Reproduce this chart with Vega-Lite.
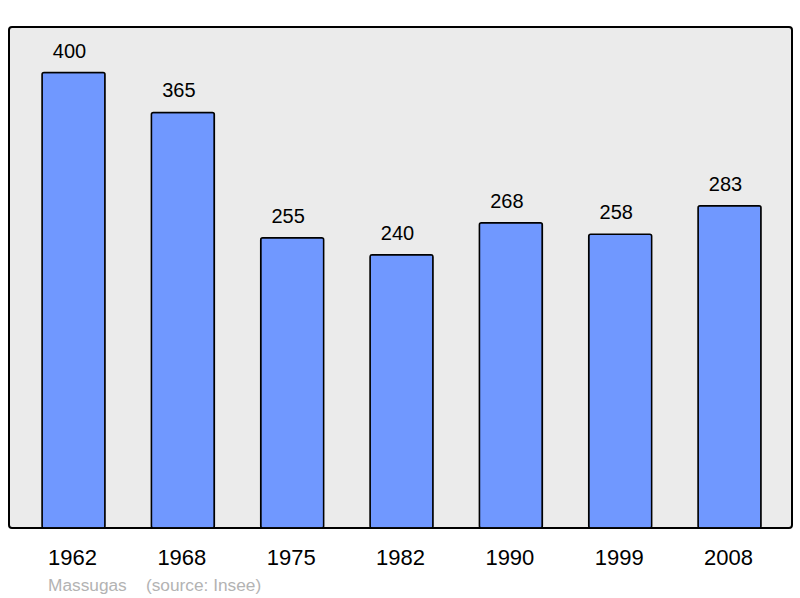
{
  "$schema": "https://vega.github.io/schema/vega-lite/v6.json",
  "width": 783,
  "height": 501,
  "autosize": {"type": "none"},
  "padding": {"left": 9, "top": 27, "right": 8, "bottom": 70},
  "background": "#ffffff",
  "config": {
    "font": "Liberation Sans",
    "view": {"fill": "#ebebeb", "stroke": "#000000", "strokeWidth": 2, "cornerRadius": 3}
  },
  "title": {
    "text": "Massugas\u00a0\u00a0\u00a0\u00a0(source: Insee)",
    "orient": "bottom",
    "anchor": "start",
    "dx": 39,
    "offset": 9,
    "fontSize": 17.3,
    "fontWeight": "normal",
    "color": "#b3b3b3",
    "font": "Liberation Sans"
  },
  "data": {
    "values": [
      {"year": "1962", "pop": 400},
      {"year": "1968", "pop": 365},
      {"year": "1975", "pop": 255},
      {"year": "1982", "pop": 240},
      {"year": "1990", "pop": 268},
      {"year": "1999", "pop": 258},
      {"year": "2008", "pop": 283}
    ]
  },
  "encoding": {
    "x": {
      "field": "year",
      "type": "ordinal",
      "sort": null,
      "scale": {"paddingInner": 0.424, "paddingOuter": 0.2927, "align": 0.516},
      "axis": {
        "title": null,
        "domain": false,
        "ticks": false,
        "labelAngle": 0,
        "labelFontSize": 22,
        "labelColor": "#000000",
        "labelBaseline": "alphabetic",
        "labelPadding": 36,
        "labelFont": "Liberation Sans",
        "labelOffset": -1
      }
    },
    "y": {
      "field": "pop",
      "type": "quantitative",
      "scale": {"domain": [0, 440], "nice": false},
      "axis": null
    }
  },
  "layer": [
    {
      "mark": {"type": "bar", "fill": "#7098ff", "stroke": "#000000", "strokeWidth": 1.5, "cornerRadius": 2}
    },
    {
      "mark": {"type": "text", "baseline": "alphabetic", "dx": -4, "dy": -15, "fontSize": 20, "color": "#000000", "font": "Liberation Sans"},
      "encoding": {"text": {"field": "pop", "type": "quantitative"}}
    }
  ]
}
